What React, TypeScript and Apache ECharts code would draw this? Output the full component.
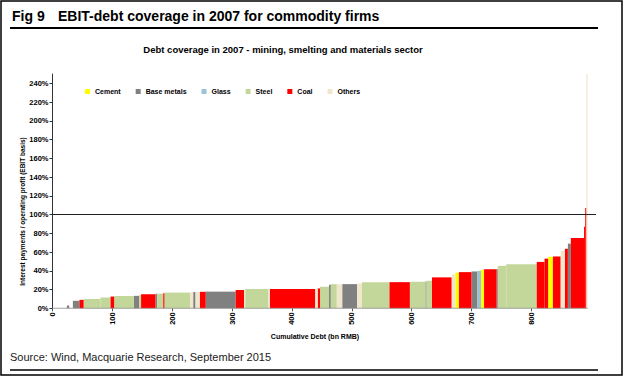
import React, { useEffect, useRef } from 'react';
import * as echarts from 'echarts';

const sectors = ['Cement', 'Base metals', 'Glass', 'Steel', 'Coal', 'Others'];
const sectorColors = ['#FFFF00', '#808080', '#9DC3D6', '#C4D79B', '#FF0000', '#F0E6CC'];

// Cumulative debt boundaries of each firm (bn RMB)
const cumDebt = [
  24, 28, 34, 45, 52, 80, 97, 103, 136, 145, 148, 172, 175, 185, 187, 230, 235, 239, 246, 256,
  306, 320, 322, 360, 363, 439, 443, 447, 462, 465, 475, 484, 509, 517, 563, 597, 623, 625, 634,
  667, 673, 679, 700, 710, 716, 721, 742, 744, 758, 809, 822, 828, 836, 849, 856, 861, 866, 888,
  890, 892, 894,
];

// Interest payments / operating profit (%) per firm
const coverage = [
  3, 0, 8, 9, 10, 11.5, 12.5, 13, 13.3, 14, 15, 15.5, 15.6, 16, 16.8, 17, 17.3, 17.5, 17.6, 17.8,
  19.5, 19.8, 20.5, 20.5, 20.6, 20.8, 21.2, 23, 25, 25.7, 25.7, 25.8, 26.5, 27.8, 27.9, 28.3, 28.5,
  29.5, 33, 36, 38, 38.6, 39.3, 40, 41, 41.7, 42, 45.3, 47, 49.5, 53, 55, 55.3, 61, 63.5, 69, 75,
  87, 107, 250,
];

// Sector of each firm
const firmSector = [
  'Base metals', 'Others', 'Base metals', 'Coal', 'Steel', 'Steel', 'Coal', 'Steel', 'Base metals', 'Steel',
  'Coal', 'Base metals', 'Steel', 'Coal', 'Steel', 'Others', 'Base metals', 'Others', 'Coal', 'Base metals',
  'Coal', 'Others', 'Steel', 'Others', 'Coal', 'Others', 'Coal', 'Steel', 'Base metals', 'Steel',
  'Others', 'Base metals', 'Others', 'Steel', 'Coal', 'Steel', 'Base metals', 'Steel', 'Coal', 'Others',
  'Cement', 'Coal', 'Base metals', 'Glass', 'Cement', 'Coal', 'Base metals', 'Steel', 'Steel', 'Coal',
  'Coal', 'Cement', 'Coal', 'Others', 'Coal', 'Base metals', 'Coal', 'Coal', 'Coal', 'Others',
];

const xTicks = [0, 100, 200, 300, 400, 500, 600, 700, 800];
const yTicks = [0, 20, 40, 60, 80, 100, 120, 140, 160, 180, 200, 220, 240];
const referenceLevel = 100;

const FONT = '"Liberation Sans", Arial, sans-serif';

export default function App() {
  const ref = useRef<HTMLDivElement>(null);

  useEffect(() => {
    if (!ref.current) return;
    const chart = echarts.init(ref.current, undefined, { renderer: 'svg' });

    const renderItem = (params: any, api: any) => {
      const x0 = api.value(0);
      const x1 = api.value(1);
      const y = api.value(2);
      const p0 = api.coord([x0, y]);
      const p1 = api.coord([x1, 0]);
      return {
        type: 'rect',
        shape: { x: p0[0], y: p0[1], width: p1[0] - p0[0], height: p1[1] - p0[1] },
        style: { fill: api.visual('color') },
      };
    };

    const barSeries = sectors.map((s, si) => ({
      name: s,
      type: 'custom',
      renderItem,
      itemStyle: { color: sectorColors[si] },
      encode: { x: [0, 1], y: 2 },
      data: coverage
        .map((v, i) => ({ v, i }))
        .filter((d) => firmSector[d.i] === s)
        .map((d) => [cumDebt[d.i], cumDebt[d.i + 1], d.v]),
      silent: true,
    }));

    const option: any = {
      animation: false,
      textStyle: { fontFamily: FONT },
      grid: { left: 52.5, right: 28, top: 74, bottom: 68.7 },
      legend: {
        data: sectors,
        left: 85,
        top: 88,
        padding: 0,
        itemWidth: 5,
        itemHeight: 5,
        itemGap: 15,
        icon: 'rect',
        textStyle: { fontSize: 7, fontWeight: 'bold', color: '#000', fontFamily: FONT },
      },
      xAxis: {
        type: 'value',
        min: 0,
        max: 908,
        interval: 100,
        axisLine: { show: false },
        axisTick: { show: true, length: 3, customValues: xTicks, lineStyle: { color: '#555' } },
        axisLabel: {
          customValues: xTicks,
          rotate: 90,
          fontSize: 7.5,
          fontWeight: 'bold',
          color: '#000',
          margin: 4,
          fontFamily: FONT,
        },
        splitLine: { show: false },
      },
      yAxis: {
        type: 'value',
        min: 0,
        max: 250,
        interval: 20,
        axisLine: { show: true, lineStyle: { color: '#333' } },
        axisTick: { show: true, length: 3, customValues: yTicks, lineStyle: { color: '#333' } },
        axisLabel: {
          customValues: yTicks,
          formatter: '{value}%',
          fontSize: 7.5,
          fontWeight: 'bold',
          color: '#000',
          margin: 4,
          fontFamily: FONT,
        },
        splitLine: { show: false },
      },
      series: [
        ...barSeries,
        {
          name: 'axisBase',
          type: 'line',
          data: [
            [0, 0],
            [cumDebt[cumDebt.length - 1], 0],
          ],
          symbol: 'none',
          silent: true,
          z: 5,
          lineStyle: { color: '#8c8c8c', width: 1 },
          markLine: {
            silent: true,
            symbol: 'none',
            label: { show: false },
            lineStyle: { color: '#222', width: 1, type: 'solid' },
            data: [{ yAxis: referenceLevel }],
          },
        },
      ],
      graphic: [
        {
          type: 'rect',
          shape: { x: 1, y: 1, width: 621, height: 374 },
          style: { fill: 'none', stroke: '#000', lineWidth: 1.5 },
        },
        {
          type: 'text',
          x: 12,
          y: 16,
          style: { text: 'Fig 9', fill: '#000', fontSize: 14, fontWeight: 'bold', fontFamily: FONT, textVerticalAlign: 'middle' },
        },
        {
          type: 'text',
          x: 58,
          y: 16,
          style: {
            text: 'EBIT-debt coverage in 2007 for commodity firms',
            fill: '#000',
            fontSize: 14,
            fontWeight: 'bold',
            fontFamily: FONT,
            textVerticalAlign: 'middle',
          },
        },
        {
          type: 'line',
          shape: { x1: 10, y1: 28, x2: 598, y2: 28 },
          style: { stroke: '#000', lineWidth: 2 },
        },
        {
          type: 'text',
          x: 283,
          y: 49,
          style: {
            text: 'Debt coverage in 2007 - mining, smelting and materials sector',
            fill: '#000',
            fontSize: 9.5,
            fontWeight: 'bold',
            fontFamily: FONT,
            textAlign: 'center',
            textVerticalAlign: 'middle',
          },
        },
        {
          type: 'text',
          x: 22.7,
          y: 211.5,
          rotation: Math.PI / 2,
          style: {
            text: 'Interest payments / operating profit (EBIT basis)',
            fill: '#000',
            fontSize: 6.5,
            fontWeight: 'bold',
            fontFamily: FONT,
            textAlign: 'center',
            textVerticalAlign: 'middle',
          },
        },
        {
          type: 'text',
          x: 315,
          y: 336,
          style: {
            text: 'Cumulative Debt (bn RMB)',
            fill: '#000',
            fontSize: 7,
            fontWeight: 'bold',
            fontFamily: FONT,
            textAlign: 'center',
            textVerticalAlign: 'middle',
          },
        },
        {
          type: 'text',
          x: 10,
          y: 357,
          style: {
            text: 'Source: Wind, Macquarie Research, September 2015',
            fill: '#222',
            fontSize: 11,
            fontFamily: FONT,
            textVerticalAlign: 'middle',
          },
        },
        {
          type: 'line',
          shape: { x1: 10, y1: 370, x2: 598, y2: 370 },
          style: { stroke: '#000', lineWidth: 1.5 },
        },
      ],
    };

    chart.setOption(option);
    return () => chart.dispose();
  }, []);

  return (
    <div
      ref={ref}
      style={{ position: 'absolute', left: 0, top: 0, width: 624, height: 377, background: '#fff' }}
    />
  );
}
